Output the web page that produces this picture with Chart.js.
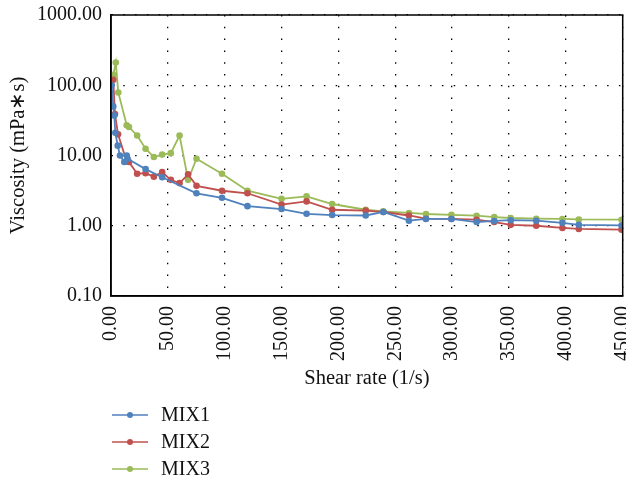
<!DOCTYPE html>
<html>
<head>
<meta charset="utf-8">
<script src="https://cdn.jsdelivr.net/npm/chart.js@4/dist/chart.umd.min.js"></script>
<style>
  html, body { margin: 0; padding: 0; background: #fff; }
  #wrap { width: 626px; height: 477px; }
</style>
</head>
<body>
<div id="wrap"><canvas id="chart" width="626" height="477"></canvas></div>
<script>
// Shear rate (1/s) per point, and viscosity (mPa*s) per point
const mix1Rate = [0.6, 2.0, 2.9, 3.8, 5.9, 7.9, 11.7, 13.8, 14.6, 30.4, 45, 75.2, 97.6, 120, 150, 172, 194.5, 224, 239.5, 262, 277, 299.4, 321.5, 337, 351.5, 374, 397, 411.4, 449];
const mix1Visc = [100, 50, 37, 21, 13.8, 10, 8.1, 10, 9.0, 6.4, 4.9, 2.9, 2.5, 1.9, 1.73, 1.48, 1.42, 1.40, 1.57, 1.18, 1.25, 1.25, 1.13, 1.17, 1.2, 1.18, 1.1, 1.03, 1.01];

const mix2Rate = [2.0, 3.5, 6.2, 13.8, 15.8, 23, 30.4, 37.7, 45, 52.6, 60.3, 67.8, 75.2, 97.6, 120, 150, 172, 194.5, 224, 239.5, 262, 277, 299.4, 321.5, 337, 351.5, 374, 397, 411.4, 449];
const mix2Visc = [120, 39, 20, 8.2, 8.1, 5.5, 5.6, 5.0, 5.8, 4.5, 4.05, 5.4, 3.7, 3.15, 2.9, 2.0, 2.22, 1.69, 1.64, 1.57, 1.40, 1.26, 1.25, 1.22, 1.13, 1.03, 1.0, 0.93, 0.9, 0.88];

const mix3Rate = [2.0, 4.2, 6.4, 13.8, 15.8, 23, 30.4, 37.7, 45, 52.6, 60.3, 67.8, 75.2, 97.6, 120, 150, 172, 194.5, 224, 239.5, 262, 277, 299.4, 321.5, 337, 351.5, 374, 397, 411.4, 449];
const mix3Visc = [141, 210, 79, 27, 25.4, 19.3, 12.5, 9.5, 10.3, 10.8, 19.2, 4.5, 9.0, 5.5, 3.15, 2.42, 2.62, 2.04, 1.69, 1.6, 1.52, 1.47, 1.43, 1.39, 1.33, 1.29, 1.26, 1.25, 1.23, 1.22];

const seriesNames = ["MIX1", "MIX2", "MIX3"];
const seriesColors = ["#4f81bd", "#c0504d", "#9bbb59"];

// Axis tick values
const xTicks = [0, 50, 100, 150, 200, 250, 300, 350, 400, 450];
const yTicks = [0.1, 1, 10, 100, 1000];

const fontFamily = "'Liberation Serif', 'Times New Roman', serif";

function toPoints(xs, ys) {
    return xs.map((x, i) => ({ x: x, y: ys[i] }));
}

function makeDataset(i, xs, ys) {
    return {
        label: seriesNames[i],
        data: toPoints(xs, ys),
        borderColor: seriesColors[i],
        backgroundColor: seriesColors[i],
        borderWidth: 1.8,
        pointRadius: 3.3,
        pointHoverRadius: 3.3,
        pointBorderWidth: 0,
        tension: 0,
        fill: false
    };
}

// Frame around the plot area (top and right edges too)
const framePlugin = {
    id: "frame",
    afterDraw(chart) {
        const { ctx, chartArea: a } = chart;
        ctx.save();
        ctx.strokeStyle = "#000";
        ctx.lineWidth = 1.5;
        ctx.strokeRect(a.left, a.top, a.right - a.left, a.bottom - a.top);
        ctx.restore();
    }
};

// Vertical legend under the chart
const legendPlugin = {
    id: "vlegend",
    afterDraw(chart) {
        const ctx = chart.ctx;
        ctx.save();
        ctx.font = "20px " + fontFamily;
        ctx.textBaseline = "middle";
        ctx.textAlign = "left";
        chart.data.datasets.forEach((ds, i) => {
            const y = 415 + i * 27;
            ctx.strokeStyle = ds.borderColor;
            ctx.lineWidth = 1.6;
            ctx.beginPath();
            ctx.moveTo(112, y);
            ctx.lineTo(148, y);
            ctx.stroke();
            ctx.fillStyle = ds.borderColor;
            ctx.beginPath();
            ctx.arc(130, y, 3, 0, Math.PI * 2);
            ctx.fill();
            ctx.fillStyle = "#111";
            ctx.fillText(ds.label, 161, y + 1);
        });
        ctx.restore();
    }
};

const gridStyle = {
    color: "#000",
    lineWidth: 1.3,
    drawTicks: false
};

new Chart(document.getElementById("chart").getContext("2d"), {
    type: "line",
    data: {
        datasets: [
            makeDataset(0, mix1Rate, mix1Visc),
            makeDataset(1, mix2Rate, mix2Visc),
            makeDataset(2, mix3Rate, mix3Visc)
        ]
    },
    options: {
        responsive: false,
        animation: false,
        layout: { padding: { left: 0, top: 15, right: 2, bottom: 83 } },
        plugins: {
            legend: { display: false },
            tooltip: { enabled: false }
        },
        scales: {
            x: {
                type: "linear",
                min: 0,
                max: 450,
                grid: gridStyle,
                border: { display: true, color: "#000", width: 1.5, dash: [1.5, 10.3] },
                afterBuildTicks: s => { s.ticks = xTicks.map(v => ({ value: v })); },
                afterFit: s => { s.height = 98; s.paddingLeft = 0; s.paddingRight = 0; },
                ticks: {
                    minRotation: 90,
                    maxRotation: 90,
                    padding: 10,
                    color: "#111",
                    font: { family: fontFamily, size: 20 },
                    callback: v => Number(v).toFixed(2)
                },
                title: {
                    display: true,
                    text: "Shear rate (1/s)",
                    color: "#111",
                    font: { family: fontFamily, size: 20.5 },
                    padding: { top: 4, bottom: 3 }
                }
            },
            y: {
                type: "logarithmic",
                min: 0.1,
                max: 1000,
                grid: gridStyle,
                border: { display: true, color: "#000", width: 1.5, dash: [1.5, 10.3] },
                afterBuildTicks: s => { s.ticks = yTicks.map(v => ({ value: v })); },
                afterFit: s => { s.width = 111; s.paddingTop = 0; s.paddingBottom = 0; },
                ticks: {
                    padding: 9,
                    color: "#111",
                    font: { family: fontFamily, size: 20 },
                    callback: v => Number(v).toFixed(2)
                },
                title: {
                    display: true,
                    text: "Viscosity (mPa\u2217s)",
                    color: "#111",
                    font: { family: fontFamily, size: 20.5 },
                    padding: { top: 6, bottom: 4 }
                }
            }
        }
    },
    plugins: [framePlugin, legendPlugin]
});
</script>
</body>
</html>
